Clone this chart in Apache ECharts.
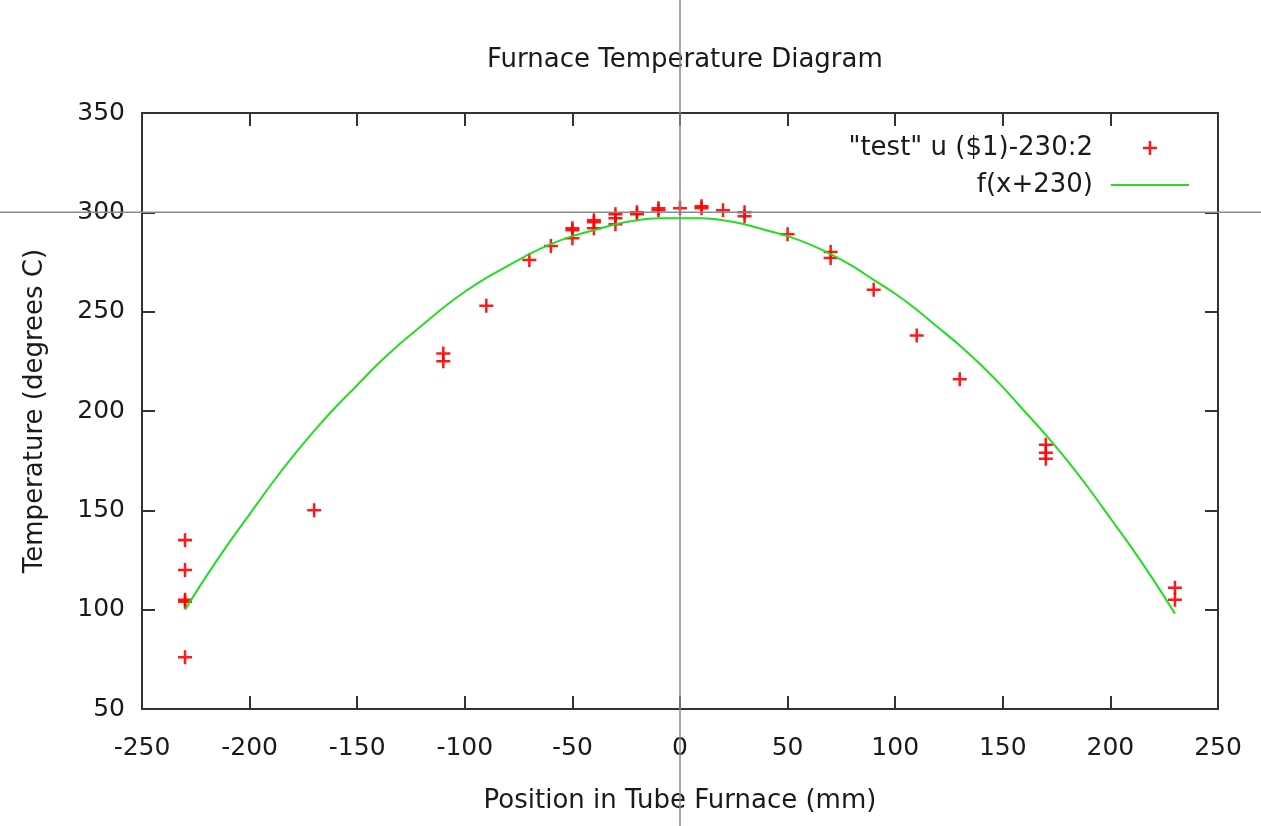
<!DOCTYPE html>
<html>
<head>
<meta charset="utf-8">
<title>Furnace Temperature Diagram</title>
<script src="https://cdn.jsdelivr.net/npm/echarts@6/dist/echarts.min.js"></script>
<style>
  html, body { margin: 0; padding: 0; background: #fff; }
  #chart { width: 1261px; height: 826px; }
</style>
</head>
<body>
<div id="chart"></div>
<script>
// measured points: position (mm, shifted by -230) and temperature
const positions = [
  -230, -230, -230, -230, -230,
  -170,
  -110, -110,
  -90, -70, -60,
  -50, -50, -50,
  -40, -40, -40,
  -30, -30, -30,
  -20, -20,
  -10, -10,
  0,
  10, 10,
  20,
  30, 30,
  50,
  70, 70,
  90, 110, 130,
  170, 170, 170,
  230, 230
]
const temperatures = [
  135, 120, 105, 104, 76,
  150,
  229, 225,
  253, 276, 283,
  292, 291, 287,
  296, 295, 292,
  299, 297, 294,
  300, 299,
  302, 301,
  302,
  303, 302,
  301,
  300, 298,
  289,
  280, 277,
  261, 238, 216,
  183, 179, 176,
  111, 105
]

// fitted curve f(x+230), every 10 mm
const curveX = [
  -230, -220, -210, -200, -190, -180, -170, -160, -150, -140, -130, -120,
  -110, -100, -90, -80, -70, -60, -50, -40, -30, -20, -10, 0,
  10, 20, 30, 40, 50, 60, 70, 80, 90, 100, 110, 120,
  130, 140, 150, 160, 170, 180, 190, 200, 210, 220, 230
]
const curveY = [
  100, 117, 133, 148, 163, 177, 190, 202, 213, 224, 234, 243,
  252, 260, 267, 273, 279, 284, 288, 291, 294, 296, 297, 297,
  297, 296, 294, 291, 288, 284, 279, 273, 266, 259, 251, 242,
  233, 223, 212, 200, 188, 175, 161, 146, 131, 115, 98
]

const xTicks = { min: -250, max: 250, interval: 50 }
const yTicks = { min: 50, max: 350, interval: 50 }
const crosshair = [0, 300]

const scatterName = '"test" u ($1)-230:2'
const curveName = 'f(x+230)'

const font = 'DejaVu Sans'
const textColor = '#1a1a1a'
const axisColor = '#333'
const green = '#22dd22'
const plus = 'path://M4.1,0 H5.9 V4.1 H10 V5.9 H5.9 V10 H4.1 V5.9 H0 V4.1 H4.1 Z'
const bar = 'path://M0,0 H100 V2.4 H0 Z'

const chart = echarts.init(document.getElementById('chart'), null, { renderer: 'canvas' })

function frameAxis(extra) {
  return Object.assign({
    type: 'value',
    axisLine: { show: true, onZero: false, lineStyle: { color: axisColor, width: 2 } },
    axisTick: { show: true, inside: true, length: 13, lineStyle: { color: axisColor, width: 2 } },
    splitLine: { show: false }
  }, extra)
}

chart.setOption({
  animation: false,
  backgroundColor: '#fff',
  title: {
    text: 'Furnace Temperature Diagram',
    left: 482,
    top: 42,
    textStyle: { fontFamily: font, fontSize: 26, fontWeight: 'normal', color: textColor }
  },
  legend: {
    orient: 'vertical',
    right: 67,
    top: 130,
    align: 'right',
    itemWidth: 78,
    itemHeight: 14,
    itemGap: 11,
    textStyle: { fontFamily: font, fontSize: 26, color: textColor, padding: [0, 13, 0, 0] },
    data: [
      { name: scatterName, icon: plus },
      { name: curveName, icon: bar, itemStyle: { color: green } }
    ]
  },
  grid: { left: 142, right: 43, top: 113, bottom: 117 },
  xAxis: [
    frameAxis(Object.assign({
      position: 'bottom',
      name: 'Position in Tube Furnace (mm)',
      nameLocation: 'middle',
      nameGap: 79,
      nameTextStyle: { fontFamily: font, fontSize: 26, color: textColor },
      axisLabel: { fontFamily: font, fontSize: 25, color: textColor, margin: 27 }
    }, xTicks)),
    frameAxis(Object.assign({ position: 'top', axisLabel: { show: false } }, xTicks))
  ],
  yAxis: [
    frameAxis(Object.assign({
      position: 'left',
      name: 'Temperature (degrees C)',
      nameLocation: 'middle',
      nameGap: 94,
      nameTextStyle: { fontFamily: font, fontSize: 26, color: textColor },
      axisLabel: { fontFamily: font, fontSize: 25, color: textColor, margin: 17 }
    }, yTicks)),
    frameAxis(Object.assign({ position: 'right', axisLabel: { show: false } }, yTicks))
  ],
  series: [
    {
      name: scatterName,
      type: 'scatter',
      symbol: plus,
      symbolSize: 14,
      itemStyle: { color: '#ff0000', opacity: 0.9 },
      data: positions.map((p, i) => [p, temperatures[i]]),
      z: 2
    },
    {
      name: curveName,
      type: 'line',
      smooth: 0.3,
      symbol: 'none',
      showSymbol: false,
      lineStyle: { color: green, width: 2 },
      itemStyle: { color: green },
      data: curveX.map((x, i) => [x, curveY[i]]),
      z: 3
    }
  ]
})

// mouse crosshair lines across the whole picture
const c = chart.convertToPixel({ gridIndex: 0 }, crosshair)
chart.setOption({
  graphic: [
    { type: 'line', z: 10, shape: { x1: c[0], y1: 0, x2: c[0], y2: 826 }, style: { stroke: '#8a8a8a', lineWidth: 1.5 } },
    { type: 'line', z: 10, shape: { x1: 0, y1: c[1], x2: 1261, y2: c[1] }, style: { stroke: '#8a8a8a', lineWidth: 1.5 } }
  ]
})
</script>
</body>
</html>
